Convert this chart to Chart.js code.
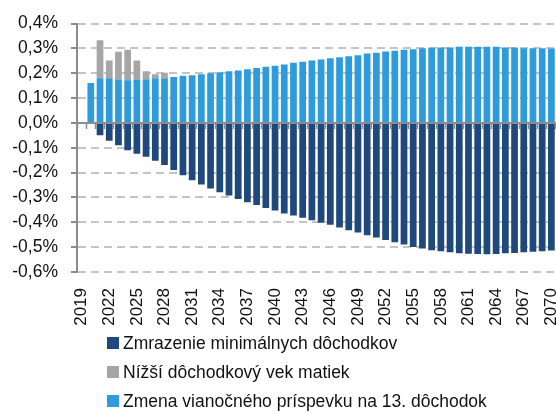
<!DOCTYPE html>
<html lang="sk">
<head>
<meta charset="utf-8">
<title>Dôchodky – vplyv opatrení</title>
<script src="https://cdn.jsdelivr.net/npm/chart.js@4.4.1/dist/chart.umd.min.js"></script>
<style>
  html, body { margin: 0; padding: 0; background: #fff; }
  body { width: 556px; height: 414px; overflow: hidden; position: relative; font-family: Arial, "Liberation Sans", sans-serif; }
  #graf { display: block; }
  #legenda { position: absolute; left: 107px; top: 329px; margin: 0; padding: 0; list-style: none; }
  #legenda li { height: 29px; line-height: 29px; font-size: 17.5px; color: #111; white-space: nowrap; }
  #legenda span { display: inline-block; width: 12px; height: 12px; margin-right: 4px; vertical-align: middle; position: relative; top: -1px; }
</style>
</head>
<body>
<canvas id="graf" width="556" height="334"></canvas>
<ul id="legenda"></ul>
<script>
// roky na osi x
const roky = [
  "2019", "2020", "2021", "2022", "2023", "2024", "2025", "2026", "2027", "2028",
  "2029", "2030", "2031", "2032", "2033", "2034", "2035", "2036", "2037", "2038",
  "2039", "2040", "2041", "2042", "2043", "2044", "2045", "2046", "2047", "2048",
  "2049", "2050", "2051", "2052", "2053", "2054", "2055", "2056", "2057", "2058",
  "2059", "2060", "2061", "2062", "2063", "2064", "2065", "2066", "2067", "2068",
  "2069", "2070"
];

// % HDP
const zmrazenie = [
  null, null, -0.050, -0.072, -0.090, -0.110, -0.124, -0.136, -0.152, -0.169,
  -0.190, -0.211, -0.231, -0.248, -0.264, -0.279, -0.292, -0.306, -0.319, -0.330,
  -0.342, -0.353, -0.365, -0.373, -0.382, -0.392, -0.402, -0.410, -0.421, -0.432,
  -0.441, -0.452, -0.461, -0.471, -0.480, -0.489, -0.499, -0.505, -0.512, -0.517,
  -0.521, -0.525, -0.527, -0.528, -0.529, -0.528, -0.525, -0.524, -0.521, -0.519,
  -0.516, -0.513
];

const matky = [
  null, null, 0.153, 0.071, 0.111, 0.122, 0.076, 0.032, 0.016, 0.022
];

const vianocny = [
  null, 0.161, 0.180, 0.180, 0.175, 0.172, 0.175, 0.176, 0.180, 0.180,
  0.185, 0.190, 0.192, 0.196, 0.200, 0.204, 0.208, 0.211, 0.216, 0.221,
  0.226, 0.230, 0.235, 0.242, 0.246, 0.251, 0.255, 0.260, 0.264, 0.268,
  0.272, 0.279, 0.282, 0.287, 0.290, 0.294, 0.296, 0.300, 0.302, 0.303,
  0.303, 0.306, 0.306, 0.306, 0.306, 0.306, 0.303, 0.303, 0.300, 0.300,
  0.300, 0.299
];

const popiskyY = ["-0,6%", "-0,5%", "-0,4%", "-0,3%", "-0,2%", "-0,1%", "0,0%", "0,1%", "0,2%", "0,3%", "0,4%"];

const nazvy = [
  "Zmrazenie minimálnych dôchodkov",
  "Nížší dôchodkový vek matiek",
  "Zmena vianočného príspevku na 13. dôchodok"
];
const farby = ["#1f497d", "#a6a6a6", "#2e9bdc"];

const pismo = "Arial, 'Liberation Sans', sans-serif";
const sedaOs = "#8c8c8c";

document.addEventListener("DOMContentLoaded", function () {
  nakresliGraf();
  nakresliLegendu();
});

function nakresliGraf() {
  let ctx = document.getElementById("graf").getContext("2d");

  new Chart(ctx, {
    type: "bar",
    data: {
      labels: roky,
      datasets: [
        { label: nazvy[0], data: zmrazenie, backgroundColor: farby[0] },
        // modrá ide do stĺpca prvá, sivá je nad ňou
        { label: nazvy[2], data: vianocny, backgroundColor: farby[2] },
        { label: nazvy[1], data: matky, backgroundColor: farby[1] }
      ]
    },
    options: {
      responsive: false,
      animation: false,
      devicePixelRatio: 1,
      layout: { padding: { top: 23, right: 0, bottom: 0, left: 0 } },
      datasets: { bar: { categoryPercentage: 1, barPercentage: 0.73 } },
      plugins: {
        legend: { display: false },
        tooltip: { enabled: false }
      },
      scales: {
        // os kategórií leží na nule, len čiarky bez popisov
        x: {
          stacked: true,
          position: { y: 0 },
          offset: true,
          grid: { offset: true, drawOnChartArea: false, tickLength: 5, tickColor: sedaOs, tickWidth: 1.5 },
          border: { color: sedaOs, width: 2 },
          ticks: { display: false }
        },
        // popisy rokov dole pod grafom
        osRokov: {
          type: "category",
          position: "bottom",
          offset: true,
          grid: { display: false, drawTicks: false },
          border: { display: false },
          ticks: {
            autoSkip: false,
            minRotation: 90,
            maxRotation: 90,
            padding: 16,
            color: "#111",
            font: { family: pismo, size: 17 },
            callback: (v, i) => (i % 3 === 0 ? roky[i] : "")
          },
          afterFit: os => {
            os.paddingLeft = 0;
            os.paddingRight = 0;
            os.height = 62;
          }
        },
        y: {
          stacked: true,
          min: -0.6,
          max: 0.4,
          ticks: {
            stepSize: 0.1,
            padding: 13,
            color: "#111",
            font: { family: pismo, size: 17.5 },
            callback: (v, i) => popiskyY[i]
          },
          grid: { color: "#c4c4c4", lineWidth: 2, tickLength: 6, tickColor: sedaOs, tickWidth: 2, tickBorderDash: [] },
          border: { color: sedaOs, width: 2, dash: [8, 5] },
          afterFit: os => { os.width = 77; }
        }
      }
    }
  });
}

function nakresliLegendu() {
  let zoznam = document.getElementById("legenda");
  zoznam.innerHTML = "";
  nazvy.forEach((nazov, i) => {
    let li = document.createElement("li");
    let stvorec = document.createElement("span");
    stvorec.style.background = farby[i];
    li.appendChild(stvorec);
    li.appendChild(document.createTextNode(nazov));
    zoznam.appendChild(li);
  });
}
</script>
</body>
</html>
